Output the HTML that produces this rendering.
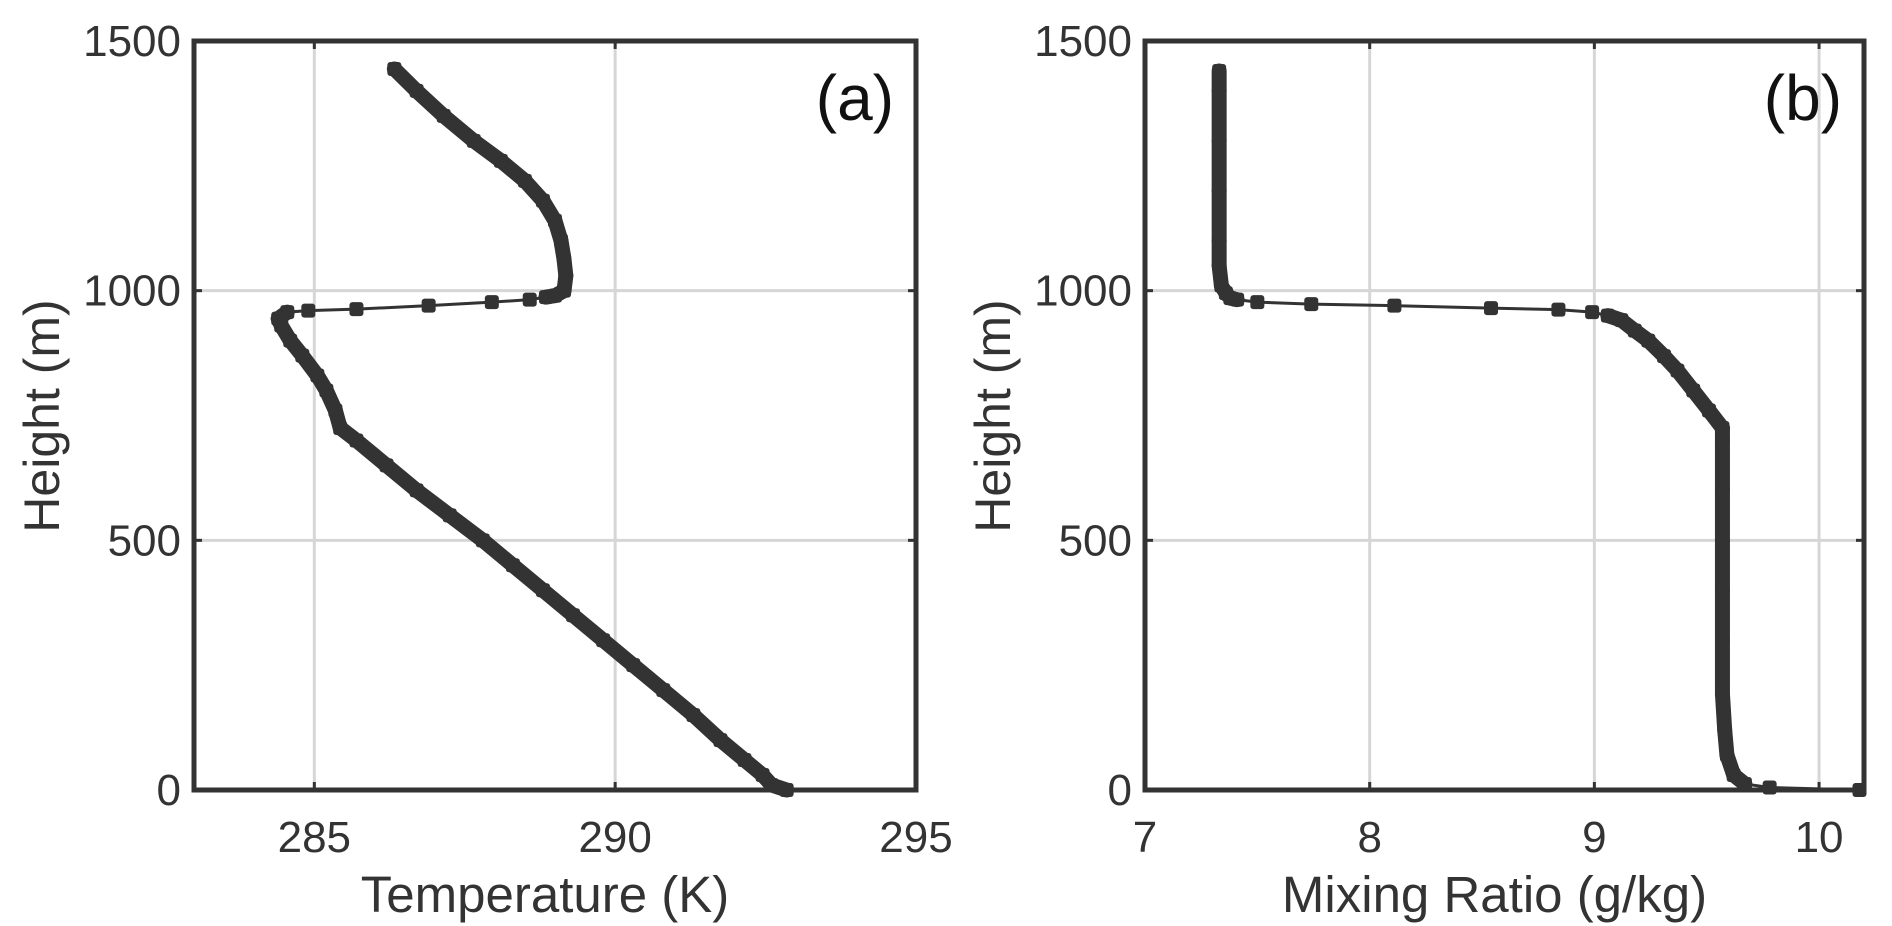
<!DOCTYPE html>
<html><head><meta charset="utf-8"><style>
html,body{margin:0;padding:0;background:#fff;}
svg{display:block;font-family:"Liberation Sans",Arial,sans-serif;}
</style></head><body>
<svg id="fig" width="1892" height="926" viewBox="0 0 1892 926" xmlns="http://www.w3.org/2000/svg"></svg>
<script>
// Panel (a) data: temperature profile
const tempHeights = [1444,1400,1350,1300,1260,1220,1180,1140,1100,1063,1030,1000,990,987,982,977,970,963,960,957,944,930,900,870,830,800,760,725,700,650,600,550,500,450,400,350,300,250,200,150,100,60,30,10,0];
const tempValues  = [286.33,286.7,287.15,287.65,288.1,288.5,288.8,289.0,289.1,289.15,289.18,289.15,289.0,288.85,288.58,287.95,286.9,285.7,284.9,284.55,284.4,284.45,284.6,284.8,285.05,285.2,285.35,285.43,285.7,286.2,286.7,287.25,287.8,288.3,288.8,289.3,289.8,290.3,290.8,291.3,291.75,292.15,292.45,292.6,292.85];
// Panel (b) data: mixing ratio profile
const mixHeights = [1440,1400,1300,1200,1100,1050,1010,995,985,982,977,973,970,965,962,957,950,941,920,900,869,840,800,760,725,700,600,500,400,300,192,120,70,30,12,5,0];
const mixValues  = [7.33,7.33,7.33,7.33,7.33,7.33,7.34,7.36,7.38,7.41,7.5,7.74,8.11,8.54,8.84,8.99,9.06,9.12,9.18,9.24,9.31,9.37,9.44,9.51,9.57,9.57,9.57,9.57,9.57,9.57,9.57,9.58,9.59,9.62,9.67,9.78,10.18];
const tempXTicks = [285,290,295];
const mixXTicks = [7,8,9,10];
const yTicks = [0,500,1000,1500];

const NS='http://www.w3.org/2000/svg';
const svg=document.getElementById('fig');
function el(tag,attrs,parent){const e=document.createElementNS(NS,tag);for(const k in attrs)e.setAttribute(k,attrs[k]);(parent||svg).appendChild(e);return e;}

function panel(cfg){
  const g=el('g',{});
  
  
  const L=cfg.left,R=cfg.right,T=41,B=790;
  const sx=v=>L+(v-cfg.xmin)/(cfg.xmax-cfg.xmin)*(R-L);
  const sy=v=>B-(v-0)/(1500-0)*(B-T);
  cfg.xticks.forEach(t=>{const x=sx(t);if(x>L+3&&x<R-3){const l=el('line',{x1:x,x2:x,y1:T,y2:B,stroke:'#d6d6d6','stroke-width':3},g);}});
  yTicks.forEach(t=>{const y=sy(t);if(y>T+3&&y<B-3){const l=el('line',{x1:L,x2:R,y1:y,y2:y,stroke:'#d6d6d6','stroke-width':3},g);}});
  cfg.xticks.forEach(t=>{const x=sx(t);el('line',{x1:x,x2:x,y1:B,y2:B-8,stroke:'#333','stroke-width':3},g);el('line',{x1:x,x2:x,y1:T,y2:T+8,stroke:'#333','stroke-width':3},g);
    const tx=el('text',{x:x,y:852,'font-size':44,fill:'#333','text-anchor':'middle'},g);tx.textContent=t;});
  yTicks.forEach(t=>{const y=sy(t);el('line',{x1:L,x2:L+8,y1:y,y2:y,stroke:'#333','stroke-width':3},g);el('line',{x1:R,x2:R-8,y1:y,y2:y,stroke:'#333','stroke-width':3},g);
    const tx=el('text',{x:L-13,y:y+15,'font-size':44,fill:'#333','text-anchor':'end'},g);tx.textContent=t;});
  const pts=cfg.vals.map((v,i)=>[sx(v),sy(cfg.hs[i])]);
  const thin=el('polyline',{points:pts.map(p=>p.join(',')).join(' '),fill:'none',stroke:'#333','stroke-width':3},g);
  
  for(let i=1;i<pts.length;i++){const dx=Math.abs(pts[i][0]-pts[i-1][0]),dy=Math.abs(pts[i][1]-pts[i-1][1]);
    if(dy>=8 || Math.hypot(dx,dy)<16){const s=el('line',{x1:pts[i-1][0],y1:pts[i-1][1],x2:pts[i][0],y2:pts[i][1],stroke:'#333','stroke-width':15,'stroke-linecap':'round'},g);
      }}
  pts.forEach(p=>{const m=el('rect',{x:p[0]-7,y:p[1]-7,width:14,height:14,rx:3,fill:'#333'},g);
    });
  const f=el('rect',{x:L,y:T,width:R-L,height:B-T,fill:'none',stroke:'#333','stroke-width':5},g);
  
  const xt=el('text',{x:(L+R)/2-10,y:912,'font-size':51,fill:'#333','text-anchor':'middle'},g);xt.textContent=cfg.xlabel;
  
  const yt=el('text',{x:0,y:0,'font-size':50,fill:'#333','text-anchor':'middle',transform:`translate(${L-135},416) rotate(-90)`},g);yt.textContent='Height (m)';
  
  const pl=el('text',{x:R-22,y:120,'font-size':64,fill:'#111','text-anchor':'end'},g);pl.textContent=cfg.tag;
  
}
panel({name:'temperature-panel',left:194,right:916,xmin:283,xmax:295,xticks:tempXTicks,hs:tempHeights,vals:tempValues,xlabel:'Temperature (K)',tag:'(a)'});
panel({name:'mixing-ratio-panel',left:1145,right:1864,xmin:7,xmax:10.2,xticks:mixXTicks,hs:mixHeights,vals:mixValues,xlabel:'Mixing Ratio (g/kg)',tag:'(b)'});
</script>
</body></html>
